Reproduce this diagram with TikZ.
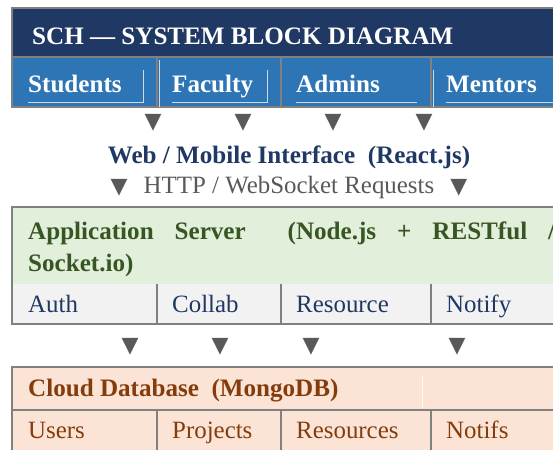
\documentclass[tikz,border=0pt]{standalone}
\usepackage{fontspec}
\setmainfont{Liberation Serif}
\newfontfamily\dejavu{DejaVu Sans}
\definecolor{navy}{HTML}{1F3864}
\definecolor{userblue}{HTML}{2E75B6}
\definecolor{bordergray}{HTML}{808080}
\definecolor{arrowgray}{HTML}{595959}
\definecolor{greenfill}{HTML}{E2EFDA}
\definecolor{greentext}{HTML}{375623}
\definecolor{svcfill}{HTML}{F2F2F2}
\definecolor{dbfill}{HTML}{FBE4D5}
\definecolor{dbtext}{HTML}{843C0C}
\begin{document}
\begin{tikzpicture}[x=1pt,y=-1pt,
        txt/.style={anchor=base west,inner sep=0pt,font=\fontsize{24.9}{30}\selectfont},
        bold/.style={txt,font=\fontsize{25.1}{30}\selectfont\bfseries},
        tri/.style={inner sep=0pt,text=arrowgray,font=\dejavu\fontsize{22}{22}\selectfont},
        grid/.style={draw=bordergray,line width=1.6pt},
        gloss/.style={draw=white,line width=0.8pt,opacity=0.75}]
\useasboundingbox (0,0) rectangle (553,449);
\clip (0,0) rectangle (553,449);

% title and users
\fill[navy] (12,8) rectangle (560,57);
\fill[userblue] (12,57) rectangle (560,107);
\draw[grid] (560,8) -- (12,8) -- (12,107) -- (560,107);
\draw[grid] (12,57) -- (560,57);
\draw[grid] (157,57) -- (157,107) (281,57) -- (281,107) (431,57) -- (431,107);
\draw[gloss] (28,102) -- (143,102) -- (143,70);
\draw[gloss] (172,102) -- (267,102) -- (267,70);
\draw[gloss] (296,102) -- (417,102);
\draw[gloss] (446,102) -- (560,102);
\draw[gloss] (159,60) -- (159,107) (433,70) -- (433,107);
\node[bold,text=white] (title) at (32,45) {SCH — SYSTEM BLOCK DIAGRAM};
\node[bold,text=white] (students) at (28,93) {Students};
\node[bold,text=white] (faculty) at (172,93) {Faculty};
\node[bold,text=white] (admins) at (296,93) {Admins};
\node[bold,text=white] (mentors) at (446,93) {Mentors};

\node[tri] (down1) at (153,123) {▼};
\node[tri] (down2) at (243,123) {▼};
\node[tri] (down3) at (333,123) {▼};
\node[tri] (down4) at (424,123) {▼};

% interface
\node[inner sep=0pt,text=navy,font=\fontsize{25.1}{30}\selectfont\bfseries] (web) at (289,157)
    {Web / Mobile Interface\ \ (React.js)};
\node[inner sep=0pt,text=arrowgray,font=\fontsize{24.9}{30}\selectfont] (http) at (289,188)
    {{\dejavu\fontsize{22}{22}\selectfont ▼}\hspace{10pt} HTTP / WebSocket Requests\hspace{10pt} {\dejavu\fontsize{22}{22}\selectfont ▼}};

% application server
\fill[greenfill] (12,207) rectangle (560,284);
\fill[svcfill] (12,284) rectangle (560,324);
\draw[grid] (560,207) -- (12,207) -- (12,324) -- (560,324);
\draw[grid] (157,284) -- (157,324) (281,284) -- (281,324) (431,284) -- (431,324);
\node[anchor=north west,inner sep=0pt,text width=527pt,align=justify,text=greentext,
    font=\fontsize{25.1}{31.5}\selectfont\bfseries] (server) at (28,222)
    {\tolerance=10000 \hyphenpenalty=10000 Application Server\ \ (Node.js + RESTful / Socket.io)};
\node[txt,text=navy] (auth) at (28,312) {Auth};
\node[txt,text=navy] (collab) at (172,312) {Collab};
\node[txt,text=navy] (resource) at (296,312) {Resource};
\node[txt,text=navy] (notify) at (446,312) {Notify};

\node[tri] (down5) at (130,347) {▼};
\node[tri] (down6) at (220,347) {▼};
\node[tri] (down7) at (311,347) {▼};
\node[tri] (down8) at (457,347) {▼};

% database
\fill[dbfill] (12,367) rectangle (560,460);
\draw[grid] (560,367) -- (12,367) -- (12,460);
\draw[grid] (12,410) -- (560,410);
\draw[grid] (157,410) -- (157,460) (281,410) -- (281,460) (431,410) -- (431,460);
\draw[gloss] (422,375) -- (422,408);
\node[bold,text=dbtext] (db) at (28,396) {Cloud Database\ \ (MongoDB)};
\node[txt,text=dbtext] (users) at (28,438) {Users};
\node[txt,text=dbtext] (projects) at (172,438) {Projects};
\node[txt,text=dbtext] (resources) at (296,438) {Resources};
\node[txt,text=dbtext] (notifs) at (446,438) {Notifs};
\end{tikzpicture}
\end{document}
